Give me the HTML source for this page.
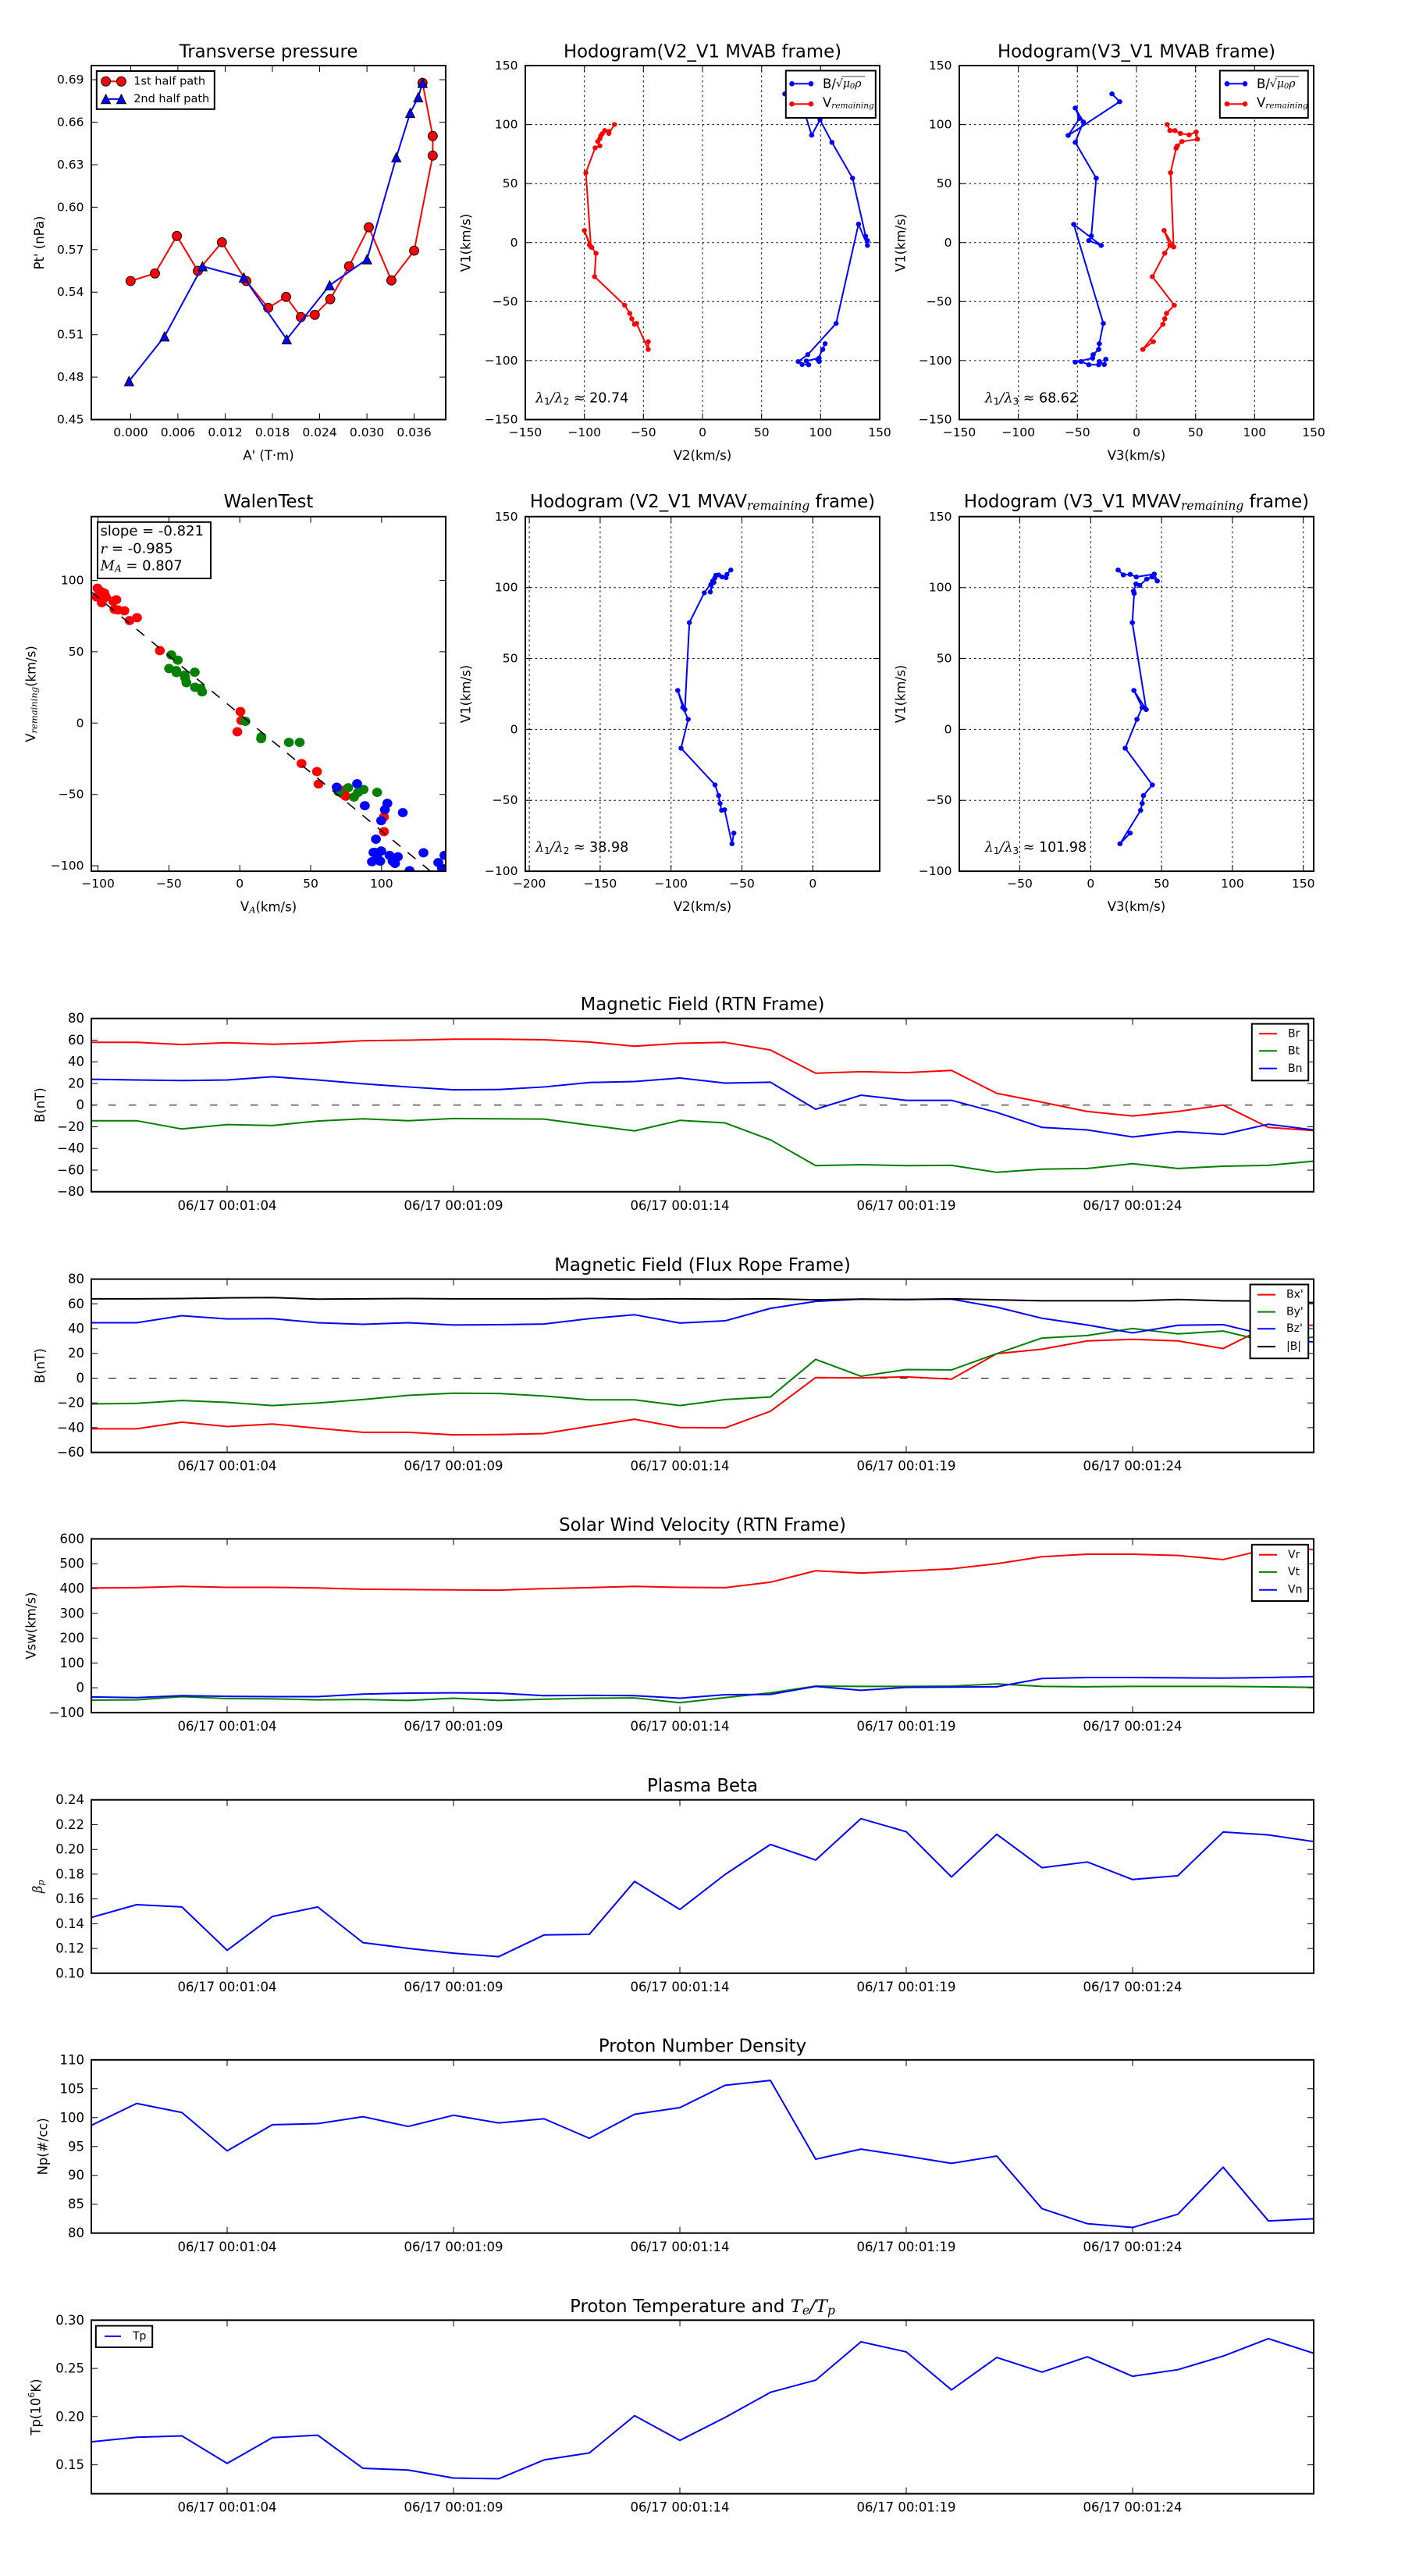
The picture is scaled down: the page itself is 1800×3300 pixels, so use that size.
<!DOCTYPE html>
<html><head><meta charset="utf-8">
<style>
html,body{margin:0;padding:0;background:#fff;}
svg{display:block;}
text{font-family:"DejaVu Sans","Liberation Sans",sans-serif;fill:#000;}
.t{font-size:15.5px;}
.ts{font-size:16.5px;}
.ti{font-size:22.8px;}
.lb{font-size:16.5px;}
.m{font-family:"DejaVu Serif","Liberation Serif",serif;font-style:italic;}
.ln{fill:none;stroke-width:2;vector-effect:non-scaling-stroke;stroke-linejoin:round;}
.grid{stroke:#000;stroke-width:1;stroke-dasharray:2.5,3.8;fill:none;}
.frame{fill:none;stroke:#000;stroke-width:2;}
.tk{stroke:#000;stroke-width:1;fill:none;}
.r{stroke:#ff0000;}
.g{stroke:#008000;}
.b{stroke:#0000ff;}
.k{stroke:#000;}
</style></head><body>
<svg width="1800" height="3300" viewBox="0 0 1800 3300" xmlns="http://www.w3.org/2000/svg">
<rect width="1800" height="3300" fill="#fff"/>

<!-- ================= ROW 1 PANEL 1: Transverse pressure ================= -->
<text class="ti" x="344" y="66.5" text-anchor="middle" dominant-baseline="central">Transverse pressure</text>
<g>
<polyline fill="none" stroke="#ff0000" stroke-width="2" stroke-linejoin="round" points="167.3,360 198.5,350.3 226.6,302.3 253.5,347 284.3,310.4 315.5,360 343.6,394.4 366.5,380.3 385.5,406.2 403.3,403.3 423.1,383.3 447.2,341.1 472.5,291.2 501.4,359.2 530.6,321.1 554.4,199.4 554.4,174.3 541.3,106.2"/>
<g fill="#ff0000" stroke="#000" stroke-width="1">
<circle cx="167.3" cy="360" r="5.9"/><circle cx="198.5" cy="350.3" r="5.9"/><circle cx="226.6" cy="302.3" r="5.9"/><circle cx="253.5" cy="347" r="5.9"/><circle cx="284.3" cy="310.4" r="5.9"/><circle cx="315.5" cy="360" r="5.9"/><circle cx="343.6" cy="394.4" r="5.9"/><circle cx="366.5" cy="380.3" r="5.9"/><circle cx="385.5" cy="406.2" r="5.9"/><circle cx="403.3" cy="403.3" r="5.9"/><circle cx="423.1" cy="383.3" r="5.9"/><circle cx="447.2" cy="341.1" r="5.9"/><circle cx="472.5" cy="291.2" r="5.9"/><circle cx="501.4" cy="359.2" r="5.9"/><circle cx="530.6" cy="321.1" r="5.9"/><circle cx="554.4" cy="199.4" r="5.9"/><circle cx="554.4" cy="174.3" r="5.9"/><circle cx="541.3" cy="106.2" r="5.9"/>
</g>
<polyline fill="none" stroke="#0000ff" stroke-width="2" stroke-linejoin="round" points="165.3,488.3 210.8,431 259.4,341.1 312.4,355.5 367.3,434.7 422.3,365.5 470.2,332.2 507.7,201.6 525.5,144.7 535.8,124.7 541.3,106.2"/>
<g fill="#0000ff" stroke="#000" stroke-width="1">
<polygon points="165.3,482.4 159.4,494.2 171.2,494.2"/><polygon points="210.8,425.1 204.9,436.9 216.7,436.9"/><polygon points="259.4,335.2 253.5,347 265.3,347"/><polygon points="312.4,349.6 306.5,361.4 318.3,361.4"/><polygon points="367.3,428.8 361.4,440.6 373.2,440.6"/><polygon points="422.3,359.6 416.4,371.4 428.2,371.4"/><polygon points="470.2,326.3 464.3,338.1 476.1,338.1"/><polygon points="507.7,195.7 501.8,207.5 513.6,207.5"/><polygon points="525.5,138.8 519.6,150.6 531.4,150.6"/><polygon points="535.8,118.8 529.9,130.6 541.7,130.6"/><polygon points="541.3,100.3 535.4,112.1 547.2,112.1"/>
</g>
</g>
<rect class="frame" x="117" y="84" width="454" height="453.5"/>
<path class="tk" d="M117,483.1h8M117,428.7h8M117,374.2h8M117,319.8h8M117,265.4h8M117,211h8M117,156.6h8M117,102.1h8M571,483.1h-8M571,428.7h-8M571,374.2h-8M571,319.8h-8M571,265.4h-8M571,211h-8M571,156.6h-8M571,102.1h-8M167.4,537.5v-8M227.9,537.5v-8M288.5,537.5v-8M349,537.5v-8M409.5,537.5v-8M470.1,537.5v-8M530.6,537.5v-8M167.4,84v8M227.9,84v8M288.5,84v8M349,84v8M409.5,84v8M470.1,84v8M530.6,84v8"/>
<g class="t" text-anchor="end" dominant-baseline="central">
<text x="107.5" y="537.5">0.45</text><text x="107.5" y="483.1">0.48</text><text x="107.5" y="428.7">0.51</text><text x="107.5" y="374.2">0.54</text><text x="107.5" y="319.8">0.57</text><text x="107.5" y="265.4">0.60</text><text x="107.5" y="211">0.63</text><text x="107.5" y="156.6">0.66</text><text x="107.5" y="102.1">0.69</text>
</g>
<g class="t" text-anchor="middle" dominant-baseline="central">
<text x="167.4" y="553.8">0.000</text><text x="227.9" y="553.8">0.006</text><text x="288.5" y="553.8">0.012</text><text x="349" y="553.8">0.018</text><text x="409.5" y="553.8">0.024</text><text x="470.1" y="553.8">0.030</text><text x="530.6" y="553.8">0.036</text>
</g>
<text class="lb" x="344" y="583.4" text-anchor="middle" dominant-baseline="central">A' (T·m)</text>
<text class="lb" transform="translate(50.6,311) rotate(-90)" text-anchor="middle" dominant-baseline="central">Pt' (nPa)</text>
<rect x="123.8" y="91" width="151" height="48.8" fill="#fff" stroke="#000" stroke-width="2"/>
<line x1="135.6" y1="104.3" x2="155.4" y2="104.3" stroke="#ff0000" stroke-width="2"/>
<circle cx="135.6" cy="104.3" r="5.9" fill="#ff0000" stroke="#000"/><circle cx="155.4" cy="104.3" r="5.9" fill="#ff0000" stroke="#000"/>
<text x="171.2" y="104.3" font-size="14.5" dominant-baseline="central">1st half path</text>
<line x1="135.6" y1="126.9" x2="155.4" y2="126.9" stroke="#0000ff" stroke-width="2"/>
<polygon points="135.6,121 129.7,132.8 141.5,132.8" fill="#0000ff" stroke="#000"/><polygon points="155.4,121 149.5,132.8 161.3,132.8" fill="#0000ff" stroke="#000"/>
<text x="171.2" y="126.9" font-size="14.5" dominant-baseline="central">2nd half path</text>

<!-- ================= ROW 1 PANEL 2 ================= -->
<text class="ti" x="900" y="66.5" text-anchor="middle" dominant-baseline="central">Hodogram(V2_V1 MVAB frame)</text>
<path class="grid" d="M748.7,84V537.5M824.3,84V537.5M900,84V537.5M975.7,84V537.5M1051.3,84V537.5M673,159.6H1127M673,235.2H1127M673,310.75H1127M673,386.3H1127M673,461.9H1127"/>
<svg x="673" y="84" width="454" height="453.5" viewBox="190 227 1188 1226" preserveAspectRatio="none" overflow="hidden">
<polyline class="ln r" points="489,431 470,462 470,455 456,452 448,463 443,470 440,480 433,490 440,505 424,512 393,598 410,855 388,798 405,848 413,857 427,877 422,958 523,1057 540,1085 547,1104 556,1123 563,1120 602,1210 602,1183"/>
<g fill="#ff0000"><circle cx="489" cy="431" r="8.5"/><circle cx="470" cy="462" r="8.5"/><circle cx="470" cy="455" r="8.5"/><circle cx="456" cy="452" r="8.5"/><circle cx="448" cy="463" r="8.5"/><circle cx="443" cy="470" r="8.5"/><circle cx="440" cy="480" r="8.5"/><circle cx="433" cy="490" r="8.5"/><circle cx="440" cy="505" r="8.5"/><circle cx="424" cy="512" r="8.5"/><circle cx="393" cy="598" r="8.5"/><circle cx="410" cy="855" r="8.5"/><circle cx="388" cy="798" r="8.5"/><circle cx="405" cy="848" r="8.5"/><circle cx="413" cy="857" r="8.5"/><circle cx="427" cy="877" r="8.5"/><circle cx="422" cy="958" r="8.5"/><circle cx="523" cy="1057" r="8.5"/><circle cx="540" cy="1085" r="8.5"/><circle cx="547" cy="1104" r="8.5"/><circle cx="556" cy="1123" r="8.5"/><circle cx="563" cy="1120" r="8.5"/><circle cx="602" cy="1210" r="8.5"/><circle cx="602" cy="1183" r="8.5"/></g>
<polyline class="ln b" points="1060,325 1125,385 1150,468 1178,415 1218,493 1287,617 1331,818 1337,833 1337,850 1307,776 1232,1120 1137,1228 1105,1252 1118,1262 1140,1263 1132,1250 1175,1240 1175,1252 1170,1245 1187,1210 1195,1190"/>
<g fill="#0000ff"><circle cx="1060" cy="325" r="8.5"/><circle cx="1125" cy="385" r="8.5"/><circle cx="1150" cy="468" r="8.5"/><circle cx="1178" cy="415" r="8.5"/><circle cx="1218" cy="493" r="8.5"/><circle cx="1287" cy="617" r="8.5"/><circle cx="1331" cy="818" r="8.5"/><circle cx="1337" cy="833" r="8.5"/><circle cx="1337" cy="850" r="8.5"/><circle cx="1307" cy="776" r="8.5"/><circle cx="1232" cy="1120" r="8.5"/><circle cx="1137" cy="1228" r="8.5"/><circle cx="1105" cy="1252" r="8.5"/><circle cx="1118" cy="1262" r="8.5"/><circle cx="1140" cy="1263" r="8.5"/><circle cx="1132" cy="1250" r="8.5"/><circle cx="1175" cy="1240" r="8.5"/><circle cx="1175" cy="1252" r="8.5"/><circle cx="1170" cy="1245" r="8.5"/><circle cx="1187" cy="1210" r="8.5"/><circle cx="1195" cy="1190" r="8.5"/></g>
</svg>
<rect class="frame" x="673" y="84" width="454" height="453.5"/>
<path class="tk" d="M748.7,537.5v-8M824.3,537.5v-8M900,537.5v-8M975.7,537.5v-8M1051.3,537.5v-8M748.7,84v8M824.3,84v8M900,84v8M975.7,84v8M1051.3,84v8M673,159.6h8M673,235.2h8M673,310.75h8M673,386.3h8M673,461.9h8M1127,159.6h-8M1127,235.2h-8M1127,310.75h-8M1127,386.3h-8M1127,461.9h-8"/>
<g class="t" text-anchor="end" dominant-baseline="central">
<text x="663.5" y="84">150</text><text x="663.5" y="159.6">100</text><text x="663.5" y="235.2">50</text><text x="663.5" y="310.75">0</text><text x="663.5" y="386.3">−50</text><text x="663.5" y="461.9">−100</text><text x="663.5" y="537.5">−150</text>
</g>
<g class="t" text-anchor="middle" dominant-baseline="central">
<text x="673" y="553.8">−150</text><text x="748.7" y="553.8">−100</text><text x="824.3" y="553.8">−50</text><text x="900" y="553.8">0</text><text x="975.7" y="553.8">50</text><text x="1051.3" y="553.8">100</text><text x="1127" y="553.8">150</text>
</g>
<text class="lb" x="900" y="583.4" text-anchor="middle" dominant-baseline="central">V2(km/s)</text>
<text class="lb" transform="translate(597,311) rotate(-90)" text-anchor="middle" dominant-baseline="central">V1(km/s)</text>
<text x="686" y="510.6" font-size="17.5" dominant-baseline="central"><tspan class="m">λ</tspan><tspan font-size="12" dy="4">1</tspan><tspan class="m" dy="-4">/</tspan><tspan class="m">λ</tspan><tspan font-size="12" dy="4">2</tspan><tspan dy="-4"> ≈ 20.74</tspan></text>
<rect x="1006.8" y="90.5" width="115" height="60.5" fill="#fff" stroke="#000" stroke-width="2"/>
<line x1="1014.5" y1="107.3" x2="1039" y2="107.3" stroke="#0000ff" stroke-width="2"/>
<circle cx="1014.5" cy="107.3" r="3.3" fill="#0000ff"/><circle cx="1039" cy="107.3" r="3.3" fill="#0000ff"/>
<text x="1054" y="107.3" font-size="16.5" dominant-baseline="central">B/<tspan font-size="14">√</tspan><tspan class="m" font-size="14">μ</tspan><tspan class="m" font-size="10" dy="3">0</tspan><tspan class="m" font-size="14" dy="-3">ρ</tspan></text>
<line x1="1078" y1="98" x2="1108" y2="98" stroke="#000" stroke-width="0.8"/>
<line x1="1014.5" y1="133.2" x2="1039" y2="133.2" stroke="#ff0000" stroke-width="2"/>
<circle cx="1014.5" cy="133.2" r="3.3" fill="#ff0000"/><circle cx="1039" cy="133.2" r="3.3" fill="#ff0000"/>
<text x="1054" y="131.5" font-size="16.5" dominant-baseline="central">V<tspan class="m" font-size="10.5" dy="4">remaining</tspan></text>

<!-- ================= ROW 1 PANEL 3 ================= -->
<text class="ti" x="1456" y="66.5" text-anchor="middle" dominant-baseline="central">Hodogram(V3_V1 MVAB frame)</text>
<path class="grid" d="M1304.7,84V537.5M1380.3,84V537.5M1456,84V537.5M1531.7,84V537.5M1607.3,84V537.5M1229,159.6H1683M1229,235.2H1683M1229,310.75H1683M1229,386.3H1683M1229,461.9H1683"/>
<svg x="1229" y="84" width="454" height="453.5" viewBox="123 227 1149 1226" preserveAspectRatio="none" overflow="hidden">
<polyline class="ln b" points="618,325 643,352 476,469 513,410 499,374 525,422 499,493 567,617 551,817 543,833 583,850 494,777 590,1120 577,1190 575,1210 557,1228 555,1240 499,1254 518,1252 543,1263 575,1263 577,1252 593,1262 598,1244"/>
<g fill="#0000ff"><circle cx="618" cy="325" r="8.5"/><circle cx="643" cy="352" r="8.5"/><circle cx="476" cy="469" r="8.5"/><circle cx="513" cy="410" r="8.5"/><circle cx="499" cy="374" r="8.5"/><circle cx="525" cy="422" r="8.5"/><circle cx="499" cy="493" r="8.5"/><circle cx="567" cy="617" r="8.5"/><circle cx="551" cy="817" r="8.5"/><circle cx="543" cy="833" r="8.5"/><circle cx="583" cy="850" r="8.5"/><circle cx="494" cy="777" r="8.5"/><circle cx="590" cy="1120" r="8.5"/><circle cx="577" cy="1190" r="8.5"/><circle cx="575" cy="1210" r="8.5"/><circle cx="557" cy="1228" r="8.5"/><circle cx="555" cy="1240" r="8.5"/><circle cx="499" cy="1254" r="8.5"/><circle cx="518" cy="1252" r="8.5"/><circle cx="543" cy="1263" r="8.5"/><circle cx="575" cy="1263" r="8.5"/><circle cx="577" cy="1252" r="8.5"/><circle cx="593" cy="1262" r="8.5"/><circle cx="598" cy="1244" r="8.5"/></g>
<polyline class="ln r" points="797,431 806,452 822,452 840,462 868,467 891,457 895,482 845,490 830,505 826,513 808,598 818,855 787,798 806,850 789,877 749,958 820,1057 795,1085 789,1104 783,1123 718,1210 752,1183"/>
<g fill="#ff0000"><circle cx="797" cy="431" r="8.5"/><circle cx="806" cy="452" r="8.5"/><circle cx="822" cy="452" r="8.5"/><circle cx="840" cy="462" r="8.5"/><circle cx="868" cy="467" r="8.5"/><circle cx="891" cy="457" r="8.5"/><circle cx="895" cy="482" r="8.5"/><circle cx="845" cy="490" r="8.5"/><circle cx="830" cy="505" r="8.5"/><circle cx="826" cy="513" r="8.5"/><circle cx="808" cy="598" r="8.5"/><circle cx="818" cy="855" r="8.5"/><circle cx="787" cy="798" r="8.5"/><circle cx="806" cy="850" r="8.5"/><circle cx="789" cy="877" r="8.5"/><circle cx="749" cy="958" r="8.5"/><circle cx="820" cy="1057" r="8.5"/><circle cx="795" cy="1085" r="8.5"/><circle cx="789" cy="1104" r="8.5"/><circle cx="783" cy="1123" r="8.5"/><circle cx="718" cy="1210" r="8.5"/><circle cx="752" cy="1183" r="8.5"/></g>
</svg>
<rect class="frame" x="1229" y="84" width="454" height="453.5"/>
<path class="tk" d="M1304.7,537.5v-8M1380.3,537.5v-8M1456,537.5v-8M1531.7,537.5v-8M1607.3,537.5v-8M1304.7,84v8M1380.3,84v8M1456,84v8M1531.7,84v8M1607.3,84v8M1229,159.6h8M1229,235.2h8M1229,310.75h8M1229,386.3h8M1229,461.9h8M1683,159.6h-8M1683,235.2h-8M1683,310.75h-8M1683,386.3h-8M1683,461.9h-8"/>
<g class="t" text-anchor="end" dominant-baseline="central">
<text x="1219.5" y="84">150</text><text x="1219.5" y="159.6">100</text><text x="1219.5" y="235.2">50</text><text x="1219.5" y="310.75">0</text><text x="1219.5" y="386.3">−50</text><text x="1219.5" y="461.9">−100</text><text x="1219.5" y="537.5">−150</text>
</g>
<g class="t" text-anchor="middle" dominant-baseline="central">
<text x="1229" y="553.8">−150</text><text x="1304.7" y="553.8">−100</text><text x="1380.3" y="553.8">−50</text><text x="1456" y="553.8">0</text><text x="1531.7" y="553.8">50</text><text x="1607.3" y="553.8">100</text><text x="1683" y="553.8">150</text>
</g>
<text class="lb" x="1456" y="583.4" text-anchor="middle" dominant-baseline="central">V3(km/s)</text>
<text class="lb" transform="translate(1153.8,311) rotate(-90)" text-anchor="middle" dominant-baseline="central">V1(km/s)</text>
<text x="1261.8" y="510.6" font-size="17.5" dominant-baseline="central"><tspan class="m">λ</tspan><tspan font-size="12" dy="4">1</tspan><tspan class="m" dy="-4">/</tspan><tspan class="m">λ</tspan><tspan font-size="12" dy="4">3</tspan><tspan dy="-4"> ≈ 68.62</tspan></text>
<rect x="1562.8" y="90.5" width="113" height="60.5" fill="#fff" stroke="#000" stroke-width="2"/>
<line x1="1572" y1="107.3" x2="1595" y2="107.3" stroke="#0000ff" stroke-width="2"/>
<circle cx="1572" cy="107.3" r="3.3" fill="#0000ff"/><circle cx="1595" cy="107.3" r="3.3" fill="#0000ff"/>
<text x="1610" y="107.3" font-size="16.5" dominant-baseline="central">B/<tspan font-size="14">√</tspan><tspan class="m" font-size="14">μ</tspan><tspan class="m" font-size="10" dy="3">0</tspan><tspan class="m" font-size="14" dy="-3">ρ</tspan></text>
<line x1="1634" y1="98" x2="1664" y2="98" stroke="#000" stroke-width="0.8"/>
<line x1="1572" y1="133.2" x2="1595" y2="133.2" stroke="#ff0000" stroke-width="2"/>
<circle cx="1572" cy="133.2" r="3.3" fill="#ff0000"/><circle cx="1595" cy="133.2" r="3.3" fill="#ff0000"/>
<text x="1610" y="131.5" font-size="16.5" dominant-baseline="central">V<tspan class="m" font-size="10.5" dy="4">remaining</tspan></text>

<!-- ================= ROW 2 PANEL 1: WalenTest ================= -->
<text class="ti" x="344" y="643" text-anchor="middle" dominant-baseline="central">WalenTest</text>
<svg x="117" y="661.8" width="454" height="454.3" viewBox="296 167 1148 1228" preserveAspectRatio="none" overflow="hidden">
<g fill="#ff0000"><circle cx="316" cy="415" r="16"/><circle cx="313" cy="445" r="16"/><circle cx="330" cy="428" r="16"/><circle cx="338" cy="432" r="16"/><circle cx="343" cy="445" r="16"/><circle cx="330" cy="465" r="16"/><circle cx="367" cy="460" r="16"/><circle cx="377" cy="455" r="16"/><circle cx="371" cy="488" r="16"/><circle cx="382" cy="490" r="16"/><circle cx="403" cy="493" r="16"/><circle cx="420" cy="527" r="16"/><circle cx="444" cy="517" r="16"/><circle cx="518" cy="631" r="16"/><circle cx="779" cy="842" r="16"/><circle cx="782" cy="873" r="16"/><circle cx="769" cy="912" r="16"/><circle cx="977" cy="1022" r="16"/><circle cx="1027" cy="1050" r="16"/><circle cx="1032" cy="1093" r="16"/><circle cx="1108" cy="1115" r="16"/><circle cx="1120" cy="1135" r="16"/><circle cx="1112" cy="1128" r="16"/><circle cx="1244" cy="1207" r="16"/><circle cx="1244" cy="1258" r="16"/></g>
<g fill="#008000"><circle cx="555" cy="646" r="16"/><circle cx="576" cy="664" r="16"/><circle cx="548" cy="693" r="16"/><circle cx="571" cy="700" r="16"/><circle cx="572" cy="707" r="16"/><circle cx="598" cy="716" r="16"/><circle cx="600" cy="725" r="16"/><circle cx="604" cy="742" r="16"/><circle cx="631" cy="706" r="16"/><circle cx="632" cy="758" r="16"/><circle cx="650" cy="762" r="16"/><circle cx="655" cy="774" r="16"/><circle cx="795" cy="876" r="16"/><circle cx="846" cy="936" r="16"/><circle cx="847" cy="930" r="16"/><circle cx="936" cy="949" r="16"/><circle cx="971" cy="949" r="16"/><circle cx="1097" cy="1120" r="16"/><circle cx="1128" cy="1106" r="16"/><circle cx="1147" cy="1138" r="16"/><circle cx="1160" cy="1122" r="16"/><circle cx="1178" cy="1112" r="16"/><circle cx="1222" cy="1122" r="16"/></g>
<g fill="#0000ff"><circle cx="1091" cy="1104" r="16"/><circle cx="1157" cy="1092" r="16"/><circle cx="1182" cy="1168" r="16"/><circle cx="1255" cy="1160" r="16"/><circle cx="1247" cy="1182" r="16"/><circle cx="1305" cy="1192" r="16"/><circle cx="1235" cy="1220" r="16"/><circle cx="1218" cy="1284" r="16"/><circle cx="1210" cy="1330" r="16"/><circle cx="1235" cy="1325" r="16"/><circle cx="1222" cy="1345" r="16"/><circle cx="1205" cy="1362" r="16"/><circle cx="1228" cy="1358" r="16"/><circle cx="1262" cy="1340" r="16"/><circle cx="1272" cy="1360" r="16"/><circle cx="1289" cy="1345" r="16"/><circle cx="1280" cy="1368" r="16"/><circle cx="1372" cy="1331" r="16"/><circle cx="1420" cy="1365" r="16"/><circle cx="1440" cy="1340" r="16"/><circle cx="1432" cy="1385" r="16"/><circle cx="1327" cy="1393" r="16"/><circle cx="1215" cy="1330" r="16"/><circle cx="1232" cy="1360" r="16"/></g>
</svg>
<line x1="117" y1="758.3" x2="551.6" y2="1116.1" stroke="#000" stroke-width="1.6" stroke-dasharray="13,12"/>
<rect class="frame" x="117" y="661.8" width="454" height="454.3"/>
<path class="tk" d="M125.6,1116.1v-8M216.4,1116.1v-8M307.2,1116.1v-8M398,1116.1v-8M488.8,1116.1v-8M125.6,661.8v8M216.4,661.8v8M307.2,661.8v8M398,661.8v8M488.8,661.8v8M117,743.6h8M117,834.9h8M117,926.3h8M117,1017.7h8M117,1109.1h8M571,743.6h-8M571,834.9h-8M571,926.3h-8M571,1017.7h-8M571,1109.1h-8"/>
<g class="t" text-anchor="end" dominant-baseline="central">
<text x="107.5" y="743.6">100</text><text x="107.5" y="834.9">50</text><text x="107.5" y="926.3">0</text><text x="107.5" y="1017.7">−50</text><text x="107.5" y="1109.1">−100</text>
</g>
<g class="t" text-anchor="middle" dominant-baseline="central">
<text x="125.6" y="1132">−100</text><text x="216.4" y="1132">−50</text><text x="307.2" y="1132">0</text><text x="398" y="1132">50</text><text x="488.8" y="1132">100</text>
</g>
<text class="lb" x="344" y="1161.6" text-anchor="middle" dominant-baseline="central">V<tspan class="m" font-size="11.5" dy="4">A</tspan><tspan dy="-4">(km/s)</tspan></text>
<text class="lb" transform="translate(39.5,889) rotate(-90)" text-anchor="middle" dominant-baseline="central">V<tspan class="m" font-size="11.5" dy="4">remaining</tspan><tspan dy="-4">(km/s)</tspan></text>
<rect x="125" y="668.8" width="145" height="72.2" fill="#fff" stroke="#000" stroke-width="2"/>
<text x="128.5" y="680.6" font-size="18" dominant-baseline="central">slope = -0.821</text>
<text x="128.5" y="702.8" font-size="18" dominant-baseline="central"><tspan class="m">r</tspan> = -0.985</text>
<text x="128.5" y="724.3" font-size="18" dominant-baseline="central"><tspan class="m">M</tspan><tspan class="m" font-size="12" dy="4">A</tspan><tspan dy="-4"> = 0.807</tspan></text>

<!-- ================= ROW 2 PANEL 2 ================= -->
<text class="ti" x="900" y="643" text-anchor="middle" dominant-baseline="central">Hodogram (V2_V1 MVAV<tspan class="m" font-size="15.5" dy="5">remaining</tspan><tspan dy="-5"> frame)</tspan></text>
<path class="grid" d="M678.1,661.8V1116.1M768.9,661.8V1116.1M859.7,661.8V1116.1M950.5,661.8V1116.1M1041.3,661.8V1116.1M673,752.7H1127M673,843.5H1127M673,934.4H1127M673,1025.2H1127"/>
<svg x="673" y="661.8" width="454" height="454.3" viewBox="190 167 1188 1228" preserveAspectRatio="none" overflow="hidden">
<polyline class="ln b" points="879,352 866,367 863,378 850,376 838,369 829,370 825,380 812,402 822,395 810,428 818,390 790,431 740,534 725,835 701,769 718,828 736,869 712,969 826,1096 838,1133 843,1160 848,1184 858,1182 883,1300 889,1263"/>
<g fill="#0000ff"><circle cx="879" cy="352" r="8.5"/><circle cx="866" cy="367" r="8.5"/><circle cx="863" cy="378" r="8.5"/><circle cx="850" cy="376" r="8.5"/><circle cx="838" cy="369" r="8.5"/><circle cx="829" cy="370" r="8.5"/><circle cx="825" cy="380" r="8.5"/><circle cx="812" cy="402" r="8.5"/><circle cx="822" cy="395" r="8.5"/><circle cx="810" cy="428" r="8.5"/><circle cx="818" cy="390" r="8.5"/><circle cx="790" cy="431" r="8.5"/><circle cx="740" cy="534" r="8.5"/><circle cx="725" cy="835" r="8.5"/><circle cx="701" cy="769" r="8.5"/><circle cx="718" cy="828" r="8.5"/><circle cx="736" cy="869" r="8.5"/><circle cx="712" cy="969" r="8.5"/><circle cx="826" cy="1096" r="8.5"/><circle cx="838" cy="1133" r="8.5"/><circle cx="843" cy="1160" r="8.5"/><circle cx="848" cy="1184" r="8.5"/><circle cx="858" cy="1182" r="8.5"/><circle cx="883" cy="1300" r="8.5"/><circle cx="889" cy="1263" r="8.5"/></g>
</svg>
<rect class="frame" x="673" y="661.8" width="454" height="454.3"/>
<path class="tk" d="M678.1,1116.1v-8M768.9,1116.1v-8M859.7,1116.1v-8M950.5,1116.1v-8M1041.3,1116.1v-8M678.1,661.8v8M768.9,661.8v8M859.7,661.8v8M950.5,661.8v8M1041.3,661.8v8M673,752.7h8M673,843.5h8M673,934.4h8M673,1025.2h8M1127,752.7h-8M1127,843.5h-8M1127,934.4h-8M1127,1025.2h-8"/>
<g class="t" text-anchor="end" dominant-baseline="central">
<text x="663.5" y="661.8">150</text><text x="663.5" y="752.7">100</text><text x="663.5" y="843.5">50</text><text x="663.5" y="934.4">0</text><text x="663.5" y="1025.2">−50</text><text x="663.5" y="1116.1">−100</text>
</g>
<g class="t" text-anchor="middle" dominant-baseline="central">
<text x="678.1" y="1132">−200</text><text x="768.9" y="1132">−150</text><text x="859.7" y="1132">−100</text><text x="950.5" y="1132">−50</text><text x="1041.3" y="1132">0</text>
</g>
<text class="lb" x="900" y="1161.6" text-anchor="middle" dominant-baseline="central">V2(km/s)</text>
<text class="lb" transform="translate(597,889) rotate(-90)" text-anchor="middle" dominant-baseline="central">V1(km/s)</text>
<text x="686" y="1085.8" font-size="17.5" dominant-baseline="central"><tspan class="m">λ</tspan><tspan font-size="12" dy="4">1</tspan><tspan class="m" dy="-4">/</tspan><tspan class="m">λ</tspan><tspan font-size="12" dy="4">2</tspan><tspan dy="-4"> ≈ 38.98</tspan></text>

<!-- ================= ROW 2 PANEL 3 ================= -->
<text class="ti" x="1456" y="643" text-anchor="middle" dominant-baseline="central">Hodogram (V3_V1 MVAV<tspan class="m" font-size="15.5" dy="5">remaining</tspan><tspan dy="-5"> frame)</tspan></text>
<path class="grid" d="M1306.5,661.8V1116.1M1397.3,661.8V1116.1M1488.1,661.8V1116.1M1578.9,661.8V1116.1M1669.7,661.8V1116.1M1229,752.7H1683M1229,843.5H1683M1229,934.4H1683M1229,1025.2H1683"/>
<svg x="1229" y="661.8" width="454" height="454.3" viewBox="123 167 1149 1228" preserveAspectRatio="none" overflow="hidden">
<polyline class="ln b" points="638,352 655,369 677,367 697,376 755,366 765,390 748,376 731,383 708,405 696,400 688,425 690,433 684,534 729,835 689,769 716,828 699,869 661,969 749,1096 720,1133 716,1160 711,1184 644,1300 677,1263"/>
<g fill="#0000ff"><circle cx="638" cy="352" r="8.5"/><circle cx="655" cy="369" r="8.5"/><circle cx="677" cy="367" r="8.5"/><circle cx="697" cy="376" r="8.5"/><circle cx="755" cy="366" r="8.5"/><circle cx="765" cy="390" r="8.5"/><circle cx="748" cy="376" r="8.5"/><circle cx="731" cy="383" r="8.5"/><circle cx="708" cy="405" r="8.5"/><circle cx="696" cy="400" r="8.5"/><circle cx="688" cy="425" r="8.5"/><circle cx="690" cy="433" r="8.5"/><circle cx="684" cy="534" r="8.5"/><circle cx="729" cy="835" r="8.5"/><circle cx="689" cy="769" r="8.5"/><circle cx="716" cy="828" r="8.5"/><circle cx="699" cy="869" r="8.5"/><circle cx="661" cy="969" r="8.5"/><circle cx="749" cy="1096" r="8.5"/><circle cx="720" cy="1133" r="8.5"/><circle cx="716" cy="1160" r="8.5"/><circle cx="711" cy="1184" r="8.5"/><circle cx="644" cy="1300" r="8.5"/><circle cx="677" cy="1263" r="8.5"/></g>
</svg>
<rect class="frame" x="1229" y="661.8" width="454" height="454.3"/>
<path class="tk" d="M1306.5,1116.1v-8M1397.3,1116.1v-8M1488.1,1116.1v-8M1578.9,1116.1v-8M1669.7,1116.1v-8M1306.5,661.8v8M1397.3,661.8v8M1488.1,661.8v8M1578.9,661.8v8M1669.7,661.8v8M1229,752.7h8M1229,843.5h8M1229,934.4h8M1229,1025.2h8M1683,752.7h-8M1683,843.5h-8M1683,934.4h-8M1683,1025.2h-8"/>
<g class="t" text-anchor="end" dominant-baseline="central">
<text x="1219.5" y="661.8">150</text><text x="1219.5" y="752.7">100</text><text x="1219.5" y="843.5">50</text><text x="1219.5" y="934.4">0</text><text x="1219.5" y="1025.2">−50</text><text x="1219.5" y="1116.1">−100</text>
</g>
<g class="t" text-anchor="middle" dominant-baseline="central">
<text x="1306.5" y="1132">−50</text><text x="1397.3" y="1132">0</text><text x="1488.1" y="1132">50</text><text x="1578.9" y="1132">100</text><text x="1669.7" y="1132">150</text>
</g>
<text class="lb" x="1456" y="1161.6" text-anchor="middle" dominant-baseline="central">V3(km/s)</text>
<text class="lb" transform="translate(1153.8,889) rotate(-90)" text-anchor="middle" dominant-baseline="central">V1(km/s)</text>
<text x="1261.8" y="1085.8" font-size="17.5" dominant-baseline="central"><tspan class="m">λ</tspan><tspan font-size="12" dy="4">1</tspan><tspan class="m" dy="-4">/</tspan><tspan class="m">λ</tspan><tspan font-size="12" dy="4">3</tspan><tspan dy="-4"> ≈ 101.98</tspan></text>

<!-- ================= TS 1: Magnetic Field (RTN) ================= -->
<text class="ti" x="900" y="1287" text-anchor="middle" dominant-baseline="central">Magnetic Field (RTN Frame)</text>
<line x1="117" y1="1415.7" x2="1683" y2="1415.7" stroke="#000" stroke-width="1" stroke-dasharray="9.5,16.5" stroke-dashoffset="4"/>
<svg x="117" y="1304.7" width="1566" height="222" viewBox="0 85 27 544" preserveAspectRatio="none" overflow="hidden">
<polyline class="ln r" points="0,160 1,160 2,167 3,161 4,166 5,162 6,155 7,153 8,150 9,150 10,152 11,159 12,172 13,163 14,160 15,184 16,257 17,252 18,255 19,248 20,320 21,348 22,377 23,391 24,377 25,357 26,427 27,437"/>
<polyline class="ln g" points="0,406 1,406 2,432 3,418 4,421 5,407 6,400 7,406 8,399 9,400 10,401 11,420 12,438 13,405 14,413 15,466 16,547 17,544 18,547 19,546 20,568 21,558 22,556 23,541 24,556 25,549 26,546 27,533"/>
<polyline class="ln b" points="0,276 1,278 2,280 3,278 4,268 5,278 6,290 7,300 8,309 9,308 10,300 11,286 12,283 13,272 14,288 15,285 16,370 17,326 18,342 19,342 20,380 21,427 22,435 23,457 24,440 25,449 26,417 27,435"/>
</svg>
<rect class="frame" x="117" y="1304.7" width="1566" height="222"/>
<path class="tk" d="M291,1526.7v-8M581,1526.7v-8M871,1526.7v-8M1161,1526.7v-8M1451,1526.7v-8M291,1304.7v8M581,1304.7v8M871,1304.7v8M1161,1304.7v8M1451,1304.7v8M117,1332.45h8M117,1360.2h8M117,1387.95h8M117,1415.7h8M117,1443.45h8M117,1471.2h8M117,1498.95h8M1683,1332.45h-8M1683,1360.2h-8M1683,1387.95h-8M1683,1415.7h-8M1683,1443.45h-8M1683,1471.2h-8M1683,1498.95h-8"/>
<g class="ts" text-anchor="end" dominant-baseline="central">
<text x="108" y="1304.7">80</text><text x="108" y="1332.45">60</text><text x="108" y="1360.2">40</text><text x="108" y="1387.95">20</text><text x="108" y="1415.7">0</text><text x="108" y="1443.45">−20</text><text x="108" y="1471.2">−40</text><text x="108" y="1498.95">−60</text><text x="108" y="1526.7">−80</text>
</g>
<g class="ts" text-anchor="middle" dominant-baseline="central">
<text x="291" y="1544.3">06/17 00:01:04</text><text x="581" y="1544.3">06/17 00:01:09</text><text x="871" y="1544.3">06/17 00:01:14</text><text x="1161" y="1544.3">06/17 00:01:19</text><text x="1451" y="1544.3">06/17 00:01:24</text>
</g>
<text class="lb" transform="translate(51.7,1415.7) rotate(-90)" text-anchor="middle" dominant-baseline="central">B(nT)</text>
<rect x="1603.8" y="1311.6" width="72.4" height="72.7" fill="#fff" stroke="#000" stroke-width="2"/>
<line x1="1613" y1="1324.3" x2="1636" y2="1324.3" stroke="#ff0000" stroke-width="2"/>
<line x1="1613" y1="1346.3" x2="1636" y2="1346.3" stroke="#008000" stroke-width="2"/>
<line x1="1613" y1="1368.8" x2="1636" y2="1368.8" stroke="#0000ff" stroke-width="2"/>
<g font-size="14" dominant-baseline="central"><text x="1650" y="1324.3">Br</text><text x="1650" y="1346.3">Bt</text><text x="1650" y="1368.8">Bn</text></g>

<!-- ================= TS 2: Flux Rope ================= -->
<text class="ti" x="900" y="1621" text-anchor="middle" dominant-baseline="central">Magnetic Field (Flux Rope Frame)</text>
<line x1="117" y1="1765.5" x2="1683" y2="1765.5" stroke="#000" stroke-width="1" stroke-dasharray="9.5,16.5" stroke-dashoffset="4"/>
<svg x="117" y="1638.6" width="1566" height="222" viewBox="0 903 27 544" preserveAspectRatio="none" overflow="hidden">
<polyline class="ln r" points="0,1373 1,1373 2,1352 3,1366 4,1358 5,1371 6,1384 7,1384 8,1392 9,1391 10,1388 11,1365 12,1343 13,1369 14,1370 15,1318 16,1212 17,1213 18,1210 19,1217 20,1137 21,1123 22,1097 23,1092 24,1097 25,1121 26,1050 27,1048"/>
<polyline class="ln g" points="0,1295 1,1293 2,1284 3,1290 4,1300 5,1292 6,1281 7,1268 8,1261 9,1262 10,1270 11,1282 12,1282 13,1300 14,1281 15,1273 16,1155 17,1208 18,1187 19,1188 20,1137 21,1088 22,1080 23,1058 24,1075 25,1066 26,1100 27,1085"/>
<polyline class="ln b" points="0,1040 1,1040 2,1018 3,1028 4,1027 5,1040 6,1045 7,1040 8,1047 9,1046 10,1044 11,1027 12,1015 13,1041 14,1034 15,995 16,973 17,966 18,967 19,966 20,991 21,1026 22,1047 23,1072 24,1048 25,1046 26,1080 27,1101"/>
<polyline class="ln k" points="0,965 1,965 2,964 3,962 4,961 5,966 6,965 7,964 8,965 9,965 10,965 11,964 12,966 13,965 14,966 15,965 16,968 17,966 18,967 19,965 20,968 21,971 22,971 23,971 24,967 25,971 26,972 27,977"/>
</svg>
<rect class="frame" x="117" y="1638.6" width="1566" height="222"/>
<path class="tk" d="M291,1860.6v-8M581,1860.6v-8M871,1860.6v-8M1161,1860.6v-8M1451,1860.6v-8M291,1638.6v8M581,1638.6v8M871,1638.6v8M1161,1638.6v8M1451,1638.6v8M117,1670.3h8M117,1702h8M117,1733.7h8M117,1765.5h8M117,1797.2h8M117,1828.9h8M1683,1670.3h-8M1683,1702h-8M1683,1733.7h-8M1683,1765.5h-8M1683,1797.2h-8M1683,1828.9h-8"/>
<g class="ts" text-anchor="end" dominant-baseline="central">
<text x="108" y="1638.6">80</text><text x="108" y="1670.3">60</text><text x="108" y="1702">40</text><text x="108" y="1733.7">20</text><text x="108" y="1765.5">0</text><text x="108" y="1797.2">−20</text><text x="108" y="1828.9">−40</text><text x="108" y="1860.6">−60</text>
</g>
<g class="ts" text-anchor="middle" dominant-baseline="central">
<text x="291" y="1878.2">06/17 00:01:04</text><text x="581" y="1878.2">06/17 00:01:09</text><text x="871" y="1878.2">06/17 00:01:14</text><text x="1161" y="1878.2">06/17 00:01:19</text><text x="1451" y="1878.2">06/17 00:01:24</text>
</g>
<text class="lb" transform="translate(51.7,1749.6) rotate(-90)" text-anchor="middle" dominant-baseline="central">B(nT)</text>
<rect x="1601.6" y="1645.5" width="74.6" height="94.7" fill="#fff" stroke="#000" stroke-width="2"/>
<line x1="1611" y1="1658.6" x2="1634" y2="1658.6" stroke="#ff0000" stroke-width="2"/>
<line x1="1611" y1="1680.6" x2="1634" y2="1680.6" stroke="#008000" stroke-width="2"/>
<line x1="1611" y1="1702.2" x2="1634" y2="1702.2" stroke="#0000ff" stroke-width="2"/>
<line x1="1611" y1="1725.1" x2="1634" y2="1725.1" stroke="#000" stroke-width="2"/>
<g font-size="14" dominant-baseline="central"><text x="1648" y="1658.6">Bx'</text><text x="1648" y="1680.6">By'</text><text x="1648" y="1702.2">Bz'</text><text x="1648" y="1725.1">|B|</text></g>

<!-- ================= TS 3: Velocity ================= -->
<text class="ti" x="900" y="1954" text-anchor="middle" dominant-baseline="central">Solar Wind Velocity (RTN Frame)</text>
<svg x="117" y="1971.4" width="1566" height="222.5" viewBox="0 77 27 545" preserveAspectRatio="none" overflow="hidden">
<polyline class="ln r" points="0,231 1,230 2,226 3,229 4,229 5,231 6,235 7,236 8,237 9,238 10,233 11,230 12,226 13,229 14,230 15,213 16,177 17,184 18,178 19,171 20,155 21,133 22,125 23,125 24,129 25,142 26,108 27,110"/>
<polyline class="ln g" points="0,583 1,582 2,572 3,578 4,579 5,582 6,581 7,584 8,577 9,584 10,580 11,577 12,576 13,591 14,575 15,560 16,539 17,540 18,540 19,539 20,532 21,540 22,541 23,540 24,540 25,540 26,541 27,543"/>
<polyline class="ln b" points="0,573 1,575 2,569 3,571 4,572 5,572 6,564 7,561 8,560 9,561 10,569 11,568 12,569 13,577 14,566 15,565 16,540 17,552 18,543 19,542 20,541 21,515 22,512 23,512 24,513 25,514 26,512 27,509"/>
</svg>
<rect class="frame" x="117" y="1971.4" width="1566" height="222.5"/>
<path class="tk" d="M291,2193.9v-8M581,2193.9v-8M871,2193.9v-8M1161,2193.9v-8M1451,2193.9v-8M291,1971.4v8M581,1971.4v8M871,1971.4v8M1161,1971.4v8M1451,1971.4v8M117,2003.2h8M117,2035h8M117,2066.8h8M117,2098.6h8M117,2130.4h8M117,2162.1h8M1683,2003.2h-8M1683,2035h-8M1683,2066.8h-8M1683,2098.6h-8M1683,2130.4h-8M1683,2162.1h-8"/>
<g class="ts" text-anchor="end" dominant-baseline="central">
<text x="108" y="1971.4">600</text><text x="108" y="2003.2">500</text><text x="108" y="2035">400</text><text x="108" y="2066.8">300</text><text x="108" y="2098.6">200</text><text x="108" y="2130.4">100</text><text x="108" y="2162.1">0</text><text x="108" y="2193.9">−100</text>
</g>
<g class="ts" text-anchor="middle" dominant-baseline="central">
<text x="291" y="2211.5">06/17 00:01:04</text><text x="581" y="2211.5">06/17 00:01:09</text><text x="871" y="2211.5">06/17 00:01:14</text><text x="1161" y="2211.5">06/17 00:01:19</text><text x="1451" y="2211.5">06/17 00:01:24</text>
</g>
<text class="lb" transform="translate(40.2,2082.6) rotate(-90)" text-anchor="middle" dominant-baseline="central">Vsw(km/s)</text>
<rect x="1603.8" y="1978.8" width="72.2" height="72.2" fill="#fff" stroke="#000" stroke-width="2"/>
<line x1="1613" y1="1991.8" x2="1636" y2="1991.8" stroke="#ff0000" stroke-width="2"/>
<line x1="1613" y1="2013.9" x2="1636" y2="2013.9" stroke="#008000" stroke-width="2"/>
<line x1="1613" y1="2036.7" x2="1636" y2="2036.7" stroke="#0000ff" stroke-width="2"/>
<g font-size="14" dominant-baseline="central"><text x="1650" y="1991.8">Vr</text><text x="1650" y="2013.9">Vt</text><text x="1650" y="2036.7">Vn</text></g>

<!-- ================= TS 4: Plasma Beta ================= -->
<text class="ti" x="900" y="2288" text-anchor="middle" dominant-baseline="central">Plasma Beta</text>
<svg x="117" y="2305.7" width="1566" height="222.1" viewBox="0 896 27 544" preserveAspectRatio="none" overflow="hidden">
<polyline class="ln b" points="0,1265 1,1225 2,1232 3,1368 4,1262 5,1232 6,1344 7,1362 8,1377 9,1388 10,1320 11,1318 12,1152 13,1240 14,1130 15,1036 16,1085 17,955 18,996 19,1138 20,1004 21,1109 22,1091 23,1146 24,1134 25,997 26,1006 27,1027"/>
</svg>
<rect class="frame" x="117" y="2305.7" width="1566" height="222.1"/>
<path class="tk" d="M291,2527.8v-8M581,2527.8v-8M871,2527.8v-8M1161,2527.8v-8M1451,2527.8v-8M291,2305.7v8M581,2305.7v8M871,2305.7v8M1161,2305.7v8M1451,2305.7v8M117,2337.4h8M117,2369.2h8M117,2400.9h8M117,2432.6h8M117,2464.4h8M117,2496.1h8M1683,2337.4h-8M1683,2369.2h-8M1683,2400.9h-8M1683,2432.6h-8M1683,2464.4h-8M1683,2496.1h-8"/>
<g class="ts" text-anchor="end" dominant-baseline="central">
<text x="108" y="2305.7">0.24</text><text x="108" y="2337.4">0.22</text><text x="108" y="2369.2">0.20</text><text x="108" y="2400.9">0.18</text><text x="108" y="2432.6">0.16</text><text x="108" y="2464.4">0.14</text><text x="108" y="2496.1">0.12</text><text x="108" y="2527.8">0.10</text>
</g>
<g class="ts" text-anchor="middle" dominant-baseline="central">
<text x="291" y="2545.4">06/17 00:01:04</text><text x="581" y="2545.4">06/17 00:01:09</text><text x="871" y="2545.4">06/17 00:01:14</text><text x="1161" y="2545.4">06/17 00:01:19</text><text x="1451" y="2545.4">06/17 00:01:24</text>
</g>
<text class="lb" transform="translate(48,2416.7) rotate(-90)" text-anchor="middle" dominant-baseline="central"><tspan class="m">β</tspan><tspan class="m" font-size="11.5" dy="4">p</tspan></text>

<!-- ================= TS 5: Proton Number Density ================= -->
<text class="ti" x="900" y="2621.3" text-anchor="middle" dominant-baseline="central">Proton Number Density</text>
<svg x="117" y="2638.8" width="1566" height="221.9" viewBox="0 87 27 497" preserveAspectRatio="none" overflow="hidden">
<polyline class="ln b" points="0,275 1,212 2,238 3,348 4,273 5,270 6,250 7,278 8,246 9,268 10,256 11,312 12,243 13,224 14,160 15,146 16,372 17,343 18,363 19,384 20,363 21,514 22,557 23,568 24,530 25,395 26,549 27,543"/>
</svg>
<rect class="frame" x="117" y="2638.8" width="1566" height="221.9"/>
<path class="tk" d="M291,2860.7v-8M581,2860.7v-8M871,2860.7v-8M1161,2860.7v-8M1451,2860.7v-8M291,2638.8v8M581,2638.8v8M871,2638.8v8M1161,2638.8v8M1451,2638.8v8M117,2675.8h8M117,2712.8h8M117,2749.8h8M117,2786.7h8M117,2823.7h8M1683,2675.8h-8M1683,2712.8h-8M1683,2749.8h-8M1683,2786.7h-8M1683,2823.7h-8"/>
<g class="ts" text-anchor="end" dominant-baseline="central">
<text x="108" y="2638.8">110</text><text x="108" y="2675.8">105</text><text x="108" y="2712.8">100</text><text x="108" y="2749.8">95</text><text x="108" y="2786.7">90</text><text x="108" y="2823.7">85</text><text x="108" y="2860.7">80</text>
</g>
<g class="ts" text-anchor="middle" dominant-baseline="central">
<text x="291" y="2878.3">06/17 00:01:04</text><text x="581" y="2878.3">06/17 00:01:09</text><text x="871" y="2878.3">06/17 00:01:14</text><text x="1161" y="2878.3">06/17 00:01:19</text><text x="1451" y="2878.3">06/17 00:01:24</text>
</g>
<text class="lb" transform="translate(55,2749.8) rotate(-90)" text-anchor="middle" dominant-baseline="central">Np(#/cc)</text>

<!-- ================= TS 6: Proton Temperature ================= -->
<text class="ti" x="900" y="2954.8" text-anchor="middle" dominant-baseline="central">Proton Temperature and <tspan class="m">T</tspan><tspan class="m" font-size="15.5" dy="5">e</tspan><tspan class="m" dy="-5">/T</tspan><tspan class="m" font-size="15.5" dy="5">p</tspan></text>
<svg x="117" y="2972.3" width="1566" height="222.3" viewBox="0 834 27 498" preserveAspectRatio="none" overflow="hidden">
<polyline class="ln b" points="0,1183 1,1170 2,1166 3,1245 4,1171 5,1164 6,1259 7,1264 8,1287 9,1289 10,1235 11,1215 12,1108 13,1179 14,1113 15,1041 16,1006 17,896 18,925 19,1034 20,941 21,983 22,939 23,995 24,976 25,937 26,887 27,929"/>
</svg>
<rect class="frame" x="117" y="2972.3" width="1566" height="222.3"/>
<path class="tk" d="M291,3194.6v-8M581,3194.6v-8M871,3194.6v-8M1161,3194.6v-8M1451,3194.6v-8M291,2972.3v8M581,2972.3v8M871,2972.3v8M1161,2972.3v8M1451,2972.3v8M117,3034.1h8M117,3095.8h8M117,3157.6h8M1683,3034.1h-8M1683,3095.8h-8M1683,3157.6h-8"/>
<g class="ts" text-anchor="end" dominant-baseline="central">
<text x="108" y="2972.3">0.30</text><text x="108" y="3034.1">0.25</text><text x="108" y="3095.8">0.20</text><text x="108" y="3157.6">0.15</text>
</g>
<g class="ts" text-anchor="middle" dominant-baseline="central">
<text x="291" y="3212.2">06/17 00:01:04</text><text x="581" y="3212.2">06/17 00:01:09</text><text x="871" y="3212.2">06/17 00:01:14</text><text x="1161" y="3212.2">06/17 00:01:19</text><text x="1451" y="3212.2">06/17 00:01:24</text>
</g>
<text class="lb" transform="translate(46,3083.5) rotate(-90)" text-anchor="middle" dominant-baseline="central">Tp(10<tspan font-size="11" dy="-6">6</tspan><tspan dy="6">K)</tspan></text>
<rect x="122.8" y="2979.5" width="72.4" height="27.5" fill="#fff" stroke="#000" stroke-width="2"/>
<line x1="134" y1="2992.9" x2="155" y2="2992.9" stroke="#0000ff" stroke-width="2"/>
<text x="170" y="2992.9" font-size="14" dominant-baseline="central">Tp</text>

</svg>
</body></html>
